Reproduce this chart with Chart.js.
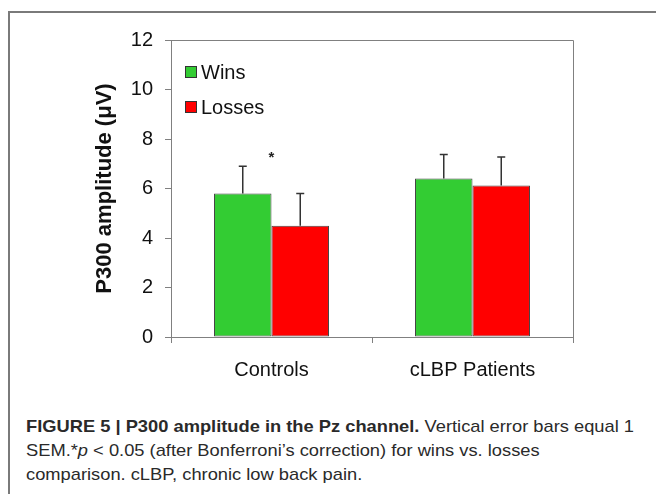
<!DOCTYPE html>
<html>
<head>
<meta charset="utf-8">
<script src="https://cdn.jsdelivr.net/npm/chart.js@4.4.1/dist/chart.umd.min.js"></script>
<style>
  body { margin: 0; width: 656px; height: 494px; background: #fff; position: relative; overflow: hidden; }
  #frame { position: absolute; left: 8px; top: 11px; width: 660px; height: 490px;
           border-top: 2px solid #7a7a7a; border-left: 2px solid #7a7a7a; }
  #chart { position: absolute; left: 0; top: 0; }
  #caption { position: absolute; left: 26px; top: 415px; color: #2a2a2a;
             font-family: "Liberation Sans", Arial, sans-serif;
             font-size: 17px; line-height: 24px; white-space: nowrap; transform-origin: 0 0; }
  #caption span { display: inline-block; }
</style>
</head>
<body>
<div id="frame"></div>
<canvas id="chart" width="656" height="400"></canvas>
<div id="caption"><span id="line1"><b>FIGURE 5 | P300 amplitude in the Pz channel.</b> Vertical error bars equal 1</span><br>SEM.*<i>p</i> &lt; 0.05 (after Bonferroni’s correction) for wins vs. losses<br>comparison. cLBP, chronic low back pain.</div>
<script>
// values
var groups = ["Controls", "cLBP Patients"];
var winsMean = [5.8, 6.4];
var winsSem = [1.1, 0.97];
var lossMean = [4.5, 6.12];
var lossSem = [1.3, 1.15];
var yTicks = [0, 2, 4, 6, 8, 10, 12];
var starAt = { group: 0, value: 7.4 };

var axisGray = "#808080";
var font = "'Liberation Sans', Arial, sans-serif";

// squeeze caption to the narrow look of the original
var l1 = document.getElementById("line1");
var sx = 608 / l1.getBoundingClientRect().width;
document.getElementById("caption").style.transform = "scaleX(" + sx + ")";

// up-only error bars
var errorBars = {
  id: "errorBars",
  afterDatasetsDraw: function(chart) {
    var ctx = chart.ctx, y = chart.scales.y;
    ctx.save();
    ctx.strokeStyle = "#333";
    ctx.lineWidth = 1.5;
    chart.data.datasets.forEach(function(ds, i) {
      var meta = chart.getDatasetMeta(i);
      meta.data.forEach(function(bar, j) {
        var top = y.getPixelForValue(ds.data[j] + ds.sem[j]);
        ctx.beginPath();
        ctx.moveTo(bar.x, bar.y);
        ctx.lineTo(bar.x, top);
        ctx.moveTo(bar.x - 4, top);
        ctx.lineTo(bar.x + 4, top);
        ctx.stroke();
      });
    });
    ctx.restore();
  }
};

// box around the plot, legend inside, significance star
var extras = {
  id: "extras",
  afterDraw: function(chart) {
    var ctx = chart.ctx, a = chart.chartArea;
    ctx.save();
    ctx.strokeStyle = axisGray;
    ctx.lineWidth = 1;
    ctx.beginPath();
    ctx.moveTo(a.left, a.top + 0.5);
    ctx.lineTo(a.right + 0.5, a.top + 0.5);
    ctx.lineTo(a.right + 0.5, a.bottom);
    ctx.stroke();

    ctx.font = "20px " + font;
    ctx.textBaseline = "middle";
    chart.data.datasets.forEach(function(ds, i) {
      var yy = 72 + i * 35;
      ctx.fillStyle = ds.backgroundColor;
      ctx.fillRect(185.5, yy - 5.5, 11, 11);
      ctx.strokeStyle = "#333";
      ctx.strokeRect(185.5, yy - 5.5, 11, 11);
      ctx.fillStyle = "#111";
      ctx.fillText(ds.label, 201, yy + 1);
    });

    ctx.font = "bold 15px " + font;
    ctx.textAlign = "center";
    ctx.fillStyle = "#222";
    ctx.fillText("*", chart.scales.x.getPixelForValue(starAt.group), chart.scales.y.getPixelForValue(starAt.value) + 4);
    ctx.restore();
  }
};

new Chart(document.getElementById("chart"), {
  type: "bar",
  data: {
    labels: groups,
    datasets: [
      { label: "Wins", data: winsMean, sem: winsSem, backgroundColor: "#33cc33",
        borderColor: "#444", borderWidth: 1, borderSkipped: false },
      { label: "Losses", data: lossMean, sem: lossSem, backgroundColor: "#ff0000",
        borderColor: "#444", borderWidth: 1, borderSkipped: false }
    ]
  },
  options: {
    responsive: false,
    animation: false,
    categoryPercentage: 0.572,
    barPercentage: 1.0,
    layout: { padding: { top: 40, right: 83, left: 0, bottom: 0 } },
    plugins: { legend: { display: false }, tooltip: { enabled: false } },
    scales: {
      x: {
        grid: { drawOnChartArea: false, tickLength: 6, color: axisGray, offset: true },
        border: { color: axisGray },
        ticks: { color: "#111", padding: 15, font: { family: font, size: 20 } },
        afterFit: function(s) { s.height = 63; }
      },
      y: {
        min: 0, max: 12,
        afterBuildTicks: function(s) { s.ticks = yTicks.map(function(v) { return { value: v }; }); },
        grid: { drawOnChartArea: false, tickLength: 6, color: axisGray },
        border: { color: axisGray },
        ticks: { color: "#111", padding: 12, font: { family: font, size: 20 } },
        title: { display: true, text: "P300 amplitude (μV)", color: "#111",
                 font: { family: font, size: 22, weight: "bold" }, padding: { top: 92 } },
        afterFit: function(s) { s.width = 171; }
      }
    }
  },
  plugins: [errorBars, extras]
});
</script>
</body>
</html>
